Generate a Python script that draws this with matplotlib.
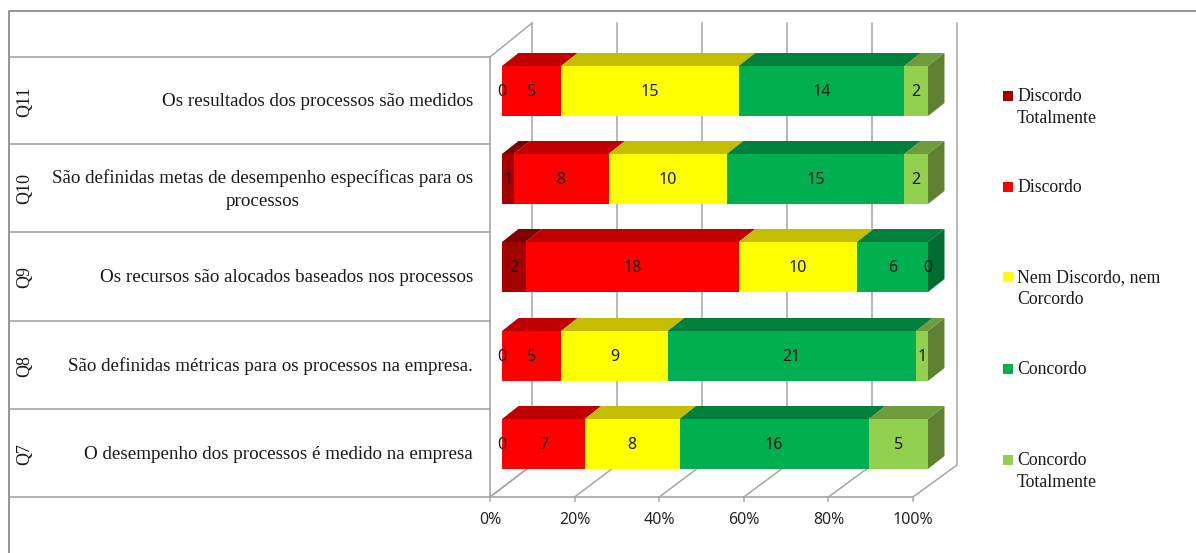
import matplotlib
matplotlib.use("Agg")
import matplotlib.pyplot as plt
from matplotlib.patches import Polygon, Rectangle

codes = ["Q11", "Q10", "Q9", "Q8", "Q7"]
questions = [
    "Os resultados dos processos são medidos",
    "São definidas metas de desempenho específicas para os\nprocessos",
    "Os recursos são alocados baseados nos processos",
    "São definidas métricas para os processos na empresa.",
    "O desempenho dos processos é medido na empresa",
]
series_names = ["Discordo\nTotalmente", "Discordo", "Nem Discordo, nem\nCorcordo", "Concordo", "Concordo\nTotalmente"]
discordo_totalmente = [0, 1, 2, 0, 0]
discordo = [5, 8, 18, 5, 7]
nem = [15, 10, 10, 9, 8]
concordo = [14, 15, 6, 21, 16]
concordo_totalmente = [2, 2, 0, 1, 5]
series = [discordo_totalmente, discordo, nem, concordo, concordo_totalmente]
ticks = [0, 20, 40, 60, 80, 100]

front = ["#A50000", "#FF0000", "#FFFF00", "#00B050", "#92D050"]
top = ["#7E0000", "#C00000", "#C4BD00", "#00803A", "#6E9C3C"]
side = ["#6E0000", "#A00000", "#A8A200", "#006E30", "#5F8232"]
GRID = "#A6A6A6"
SERIF = "Liberation Serif"
SANS = "Noto Sans"

fig = plt.figure(figsize=(11.96, 5.53), dpi=100)
ax = fig.add_axes([0, 0, 1, 1])
ax.set_xlim(0, 1196)
ax.set_ylim(553, 0)
ax.axis("off")

# frame and table rules
ax.plot([9, 9, 1196], [553, 11, 11], color="#8C8C8C", lw=1.3)
row_lines = [57, 144, 232, 321, 409, 497]
for y in row_lines:
    ax.plot([10, 490], [y, y], color=GRID, lw=1.2)

# wall / floor geometry
X0, XW = 490, 423
BX0, BXW = 532, 425
YF, YB, YT = 497, 465, 23
for t in ticks:
    fx = X0 + XW * t / 100
    bx = BX0 + BXW * t / 100
    ax.plot([fx, bx, bx], [YF, YB, YT], color=GRID, lw=1.1, zorder=1, solid_joinstyle="miter")
    ax.plot([fx, fx], [YF, YF + 4], color=GRID, lw=1.1, zorder=1)
    ax.text(fx, 520, f"{t}%", ha="center", va="center", fontsize=11.5, family=SANS, color="#262626")
ax.plot([X0, X0 + XW], [YF, YF], color=GRID, lw=1.2, zorder=1)
ax.plot([X0, BX0], [YF, YB], color=GRID, lw=1.1, zorder=1)
ax.plot([X0, X0], [57, YF], color=GRID, lw=1.2, zorder=1)
ax.plot([X0, BX0], [57, YT], color=GRID, lw=1.1, zorder=1)

# bars
BAR_X, BAR_W = 502, 426
DX, DY = 16.5, 13
bar_tops = [66, 154, 242, 331, 419]
BAR_H = 50
for r, yt in enumerate(bar_tops):
    total = sum(s[r] for s in series)
    cum = 0
    for k, s in enumerate(series):
        v = s[r]
        x0 = BAR_X + BAR_W * cum / total
        x1 = BAR_X + BAR_W * (cum + v) / total
        if v > 0:
            ax.add_patch(Polygon([(x0, yt), (x1, yt), (x1 + DX, yt - DY), (x0 + DX, yt - DY)],
                                 closed=True, fc=top[k], ec="none", zorder=3))
            ax.add_patch(Rectangle((x0, yt), x1 - x0, BAR_H, fc=front[k], ec="none", zorder=4))
        ax.text((x0 + x1) / 2, yt + 26, str(v), ha="center", va="center",
                fontsize=11.5, family=SANS, color="#1a1a1a", zorder=6)
        cum += v
    last = max(k for k, s in enumerate(series) if s[r] > 0)
    xe = BAR_X + BAR_W
    ax.add_patch(Polygon([(xe, yt), (xe + DX, yt - DY), (xe + DX, yt + BAR_H - DY), (xe, yt + BAR_H)],
                         closed=True, fc=side[last], ec="none", zorder=3))

# category labels
for r, (c, q) in enumerate(zip(codes, questions)):
    yc = (row_lines[r] + row_lines[r + 1]) / 2
    ax.text(25, yc + 1, c, rotation=90, ha="center", va="center", fontsize=13, family=SERIF, color="#1a1a1a")
    ax.text(473, yc + 1.5, q, ha="right", va="center", multialignment="center", fontsize=13.7,
            family=SERIF, color="#1a1a1a", linespacing=1.4)

# legend
leg_y = [96, 187, 277, 369, 460]
for y, name, col in zip(leg_y, series_names, front):
    ax.add_patch(Rectangle((1003, y - 5), 10, 10, fc=col, ec="none"))
    ax.text(1017, y - 8, name, ha="left", va="top", fontsize=12.8, family=SERIF, color="#1a1a1a", linespacing=1.42)

fig.savefig("out.png", dpi=100)
